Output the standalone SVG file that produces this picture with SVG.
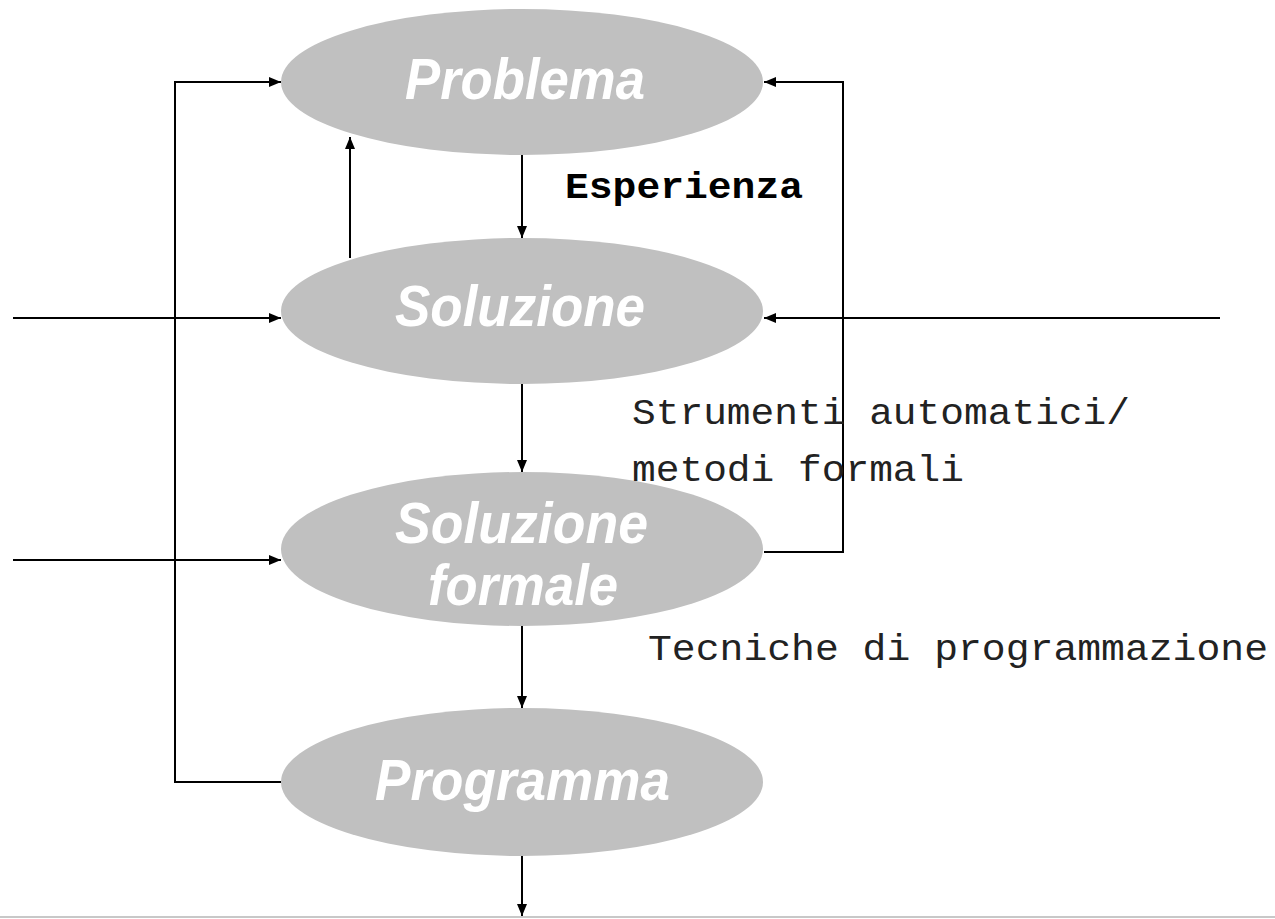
<svg xmlns="http://www.w3.org/2000/svg" width="1275" height="919" viewBox="0 0 1275 919">
  <style>
    .node { fill: #c0c0c0; }
    .label { fill: #ffffff; font-family: "Liberation Sans", Arial, sans-serif; font-weight: bold; font-style: italic; font-size: 58px; text-anchor: start; }
    .wire { fill: none; stroke: #000; stroke-width: 2; }
    .mono { font-family: "Liberation Mono", "Courier New", monospace; font-size: 36px; fill: #222; }
    .bold { font-weight: bold; fill: #000; }
  </style>
  <defs>
    <marker id="arrow" viewBox="0 0 12 10" refX="12" refY="5" markerWidth="12" markerHeight="10" markerUnits="userSpaceOnUse" orient="auto">
      <path d="M0,0 L12,5 L0,10 Z" fill="#000"/>
    </marker>
  </defs>
  <rect width="1275" height="919" fill="#ffffff"/>

  <g id="connectors">
    <!-- feedback loop on the left: Programma back to Problema -->
    <polyline class="wire" points="281,782 175,782 175,82 281,82" marker-end="url(#arrow)"/>
    <!-- Soluzione back up to Problema -->
    <line class="wire" x1="350" y1="258" x2="350" y2="137" marker-end="url(#arrow)"/>
    <!-- main chain -->
    <line class="wire" x1="522" y1="155" x2="522" y2="238" marker-end="url(#arrow)"/>
    <line class="wire" x1="522" y1="384" x2="522" y2="472" marker-end="url(#arrow)"/>
    <line class="wire" x1="522" y1="626" x2="522" y2="708" marker-end="url(#arrow)"/>
    <line class="wire" x1="522" y1="856" x2="522" y2="916" marker-end="url(#arrow)"/>
    <!-- external inputs -->
    <line class="wire" x1="13" y1="318" x2="281" y2="318" marker-end="url(#arrow)"/>
    <line class="wire" x1="13" y1="560" x2="281" y2="560" marker-end="url(#arrow)"/>
    <line class="wire" x1="1220" y1="318" x2="764" y2="318" marker-end="url(#arrow)"/>
    <!-- feedback loop on the right: Soluzione formale back to Problema -->
    <polyline class="wire" points="764,552 843,552 843,82 764,82" stroke-width="1.6" marker-end="url(#arrow)"/>
  </g>

  <g id="problema">
    <ellipse class="node" cx="522" cy="82" rx="241" ry="73"/>
    <text class="label" x="405" y="99" textLength="240" lengthAdjust="spacingAndGlyphs">Problema</text>
  </g>

  <g id="soluzione">
    <ellipse class="node" cx="522" cy="311" rx="241" ry="73"/>
    <text class="label" x="395" y="326" textLength="250" lengthAdjust="spacingAndGlyphs">Soluzione</text>
  </g>

  <g id="soluzione-formale">
    <ellipse class="node" cx="522" cy="549" rx="241" ry="77"/>
    <text class="label" x="395" y="543" textLength="253" lengthAdjust="spacingAndGlyphs">Soluzione</text>
    <text class="label" x="428" y="605" textLength="190" lengthAdjust="spacingAndGlyphs">formale</text>
  </g>

  <g id="programma">
    <ellipse class="node" cx="522" cy="782" rx="241" ry="74"/>
    <text class="label" x="375" y="800" textLength="295" lengthAdjust="spacingAndGlyphs">Programma</text>
  </g>

  <g id="edge-labels">
    <text class="mono bold" x="565" y="198" textLength="238" lengthAdjust="spacingAndGlyphs">Esperienza</text>
    <text class="mono" x="632" y="424" textLength="498" lengthAdjust="spacingAndGlyphs">Strumenti automatici/</text>
    <text class="mono" x="632" y="481" textLength="332" lengthAdjust="spacingAndGlyphs">metodi formali</text>
    <text class="mono" x="648" y="660" textLength="620" lengthAdjust="spacingAndGlyphs">Tecniche di programmazione</text>
  </g>

  <!-- page edge -->
  <line x1="0" y1="917" x2="1275" y2="917" stroke="#c8c8c8" stroke-width="2"/>
</svg>
